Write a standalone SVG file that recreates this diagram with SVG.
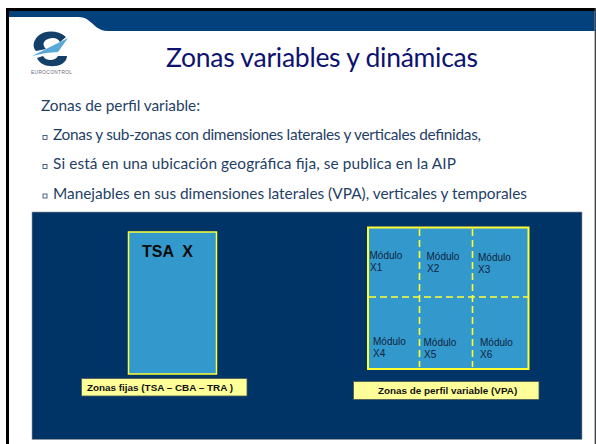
<svg xmlns="http://www.w3.org/2000/svg" width="596" height="444" viewBox="0 0 596 444">
<style>
.b{font-family:Lato,"Liberation Sans",sans-serif;font-size:15.4px;fill:#1f3f66}
.s{fill:none;stroke:#1f3f66;stroke-width:.8}
.a{font-family:"Liberation Sans",Arial,sans-serif}
.m{font-size:10px;fill:#10243c}
.l{font-size:9.9px;font-weight:bold;fill:#111}
.z{fill:#3398cc;stroke:#ffff33}
.k{fill:#ffff99;stroke:#4a5a50;stroke-width:.8}
.d{stroke:#ffff33;stroke-width:1.6;stroke-dasharray:7 4;fill:none}
</style>
<rect width="596" height="444" fill="#fff"/>
<g id="frame">
<rect x="6" y="8" width="589" height="436" fill="#000"/>
<rect x="594.700" y="8" width="1.300" height="436" fill="#444"/>
<rect x="9" y="11" width="585.700" height="433" fill="#fff"/>
<path d="M9 11H594.700V31H108C98 31 95 25 88 20C86 18 82 17 78 17H9Z" fill="#03417c"/>
</g>
<g id="logo">
<path d="M66 37C58 30 45 30 38 36C32 42 33 48 36 51L46 49C42 45 43 41 48 39C53 37 58 38 60 42Z" fill="#143f68"/>
<path d="M68 38L32 56L46 53L58 52Z" fill="#5aa9d8"/>
<path d="M37 58C41 67 54 68 62 64C65 62 67 59 67 56L58 56C56 60 50 61 46 59C44 58 44 57 43 56Z" fill="#143f68"/>
<text x="31" y="74" font-family="Liberation Sans,sans-serif" font-size="4.8" fill="#667" textLength="41">EUROCONTROL</text>
</g>
<g id="title"><text x="166" y="67" font-family="Lato,sans-serif" font-size="26.500" fill="#0d1270" textLength="312">Zonas variables y dinámicas</text></g>
<g id="bullets">
<text class="b" x="41" y="111" textLength="159">Zonas de perfil variable:</text>
<rect class="s" x="43" y="135.500" width="4" height="4"/>
<text class="b" x="53" y="140" textLength="428">Zonas y sub-zonas con dimensiones laterales y verticales definidas,</text>
<rect class="s" x="43" y="164.500" width="4" height="4"/>
<text class="b" x="53" y="169" textLength="403">Si está en una ubicación geográfica fija, se publica en la AIP</text>
<rect class="s" x="43" y="194" width="4" height="4"/>
<text class="b" x="53" y="199" textLength="474">Manejables en sus dimensiones laterales (VPA), verticales y temporales</text>
</g>
<rect id="panel" x="32" y="212" width="550" height="227.500" fill="#003366" stroke="#999" stroke-width=".6"/>
<g id="tsa">
<rect class="z" x="128.500" y="232" width="88" height="142" stroke-width="1.500"/>
<text class="a" x="142" y="257" font-size="16" font-weight="bold" fill="#0a0a0a" xml:space="preserve">TSA  X</text>
</g>
<g id="label-fijas">
<rect class="k" x="81.500" y="378.500" width="165.500" height="17.500"/>
<text class="a l" x="87" y="391">Zonas fijas (TSA – CBA – TRA )</text>
</g>
<g id="vpa">
<rect class="z" x="368" y="227.500" width="160.500" height="141.500" stroke-width="2"/>
<text class="a m" x="369.500" y="259">Módulo</text><text class="a m" x="370" y="271">X1</text>
<text class="a m" x="426.500" y="260">Módulo</text><text class="a m" x="427" y="272">X2</text>
<text class="a m" x="478" y="261">Módulo</text><text class="a m" x="478" y="273">X3</text>
<text class="a m" x="373" y="345">Módulo</text><text class="a m" x="373" y="357">X4</text>
<text class="a m" x="423.500" y="346">Módulo</text><text class="a m" x="424" y="358">X5</text>
<text class="a m" x="480" y="346">Módulo</text><text class="a m" x="480" y="358">X6</text>
</g>
<g id="connectors">
<path class="d" d="M419.500 229V367M472.500 229V367M369 297H528"/>
</g>
<g id="label-vpa">
<rect class="k" x="353.500" y="381.500" width="185.500" height="18"/>
<text class="a l" x="378" y="394">Zonas de perfil variable (VPA)</text>
</g>
</svg>
